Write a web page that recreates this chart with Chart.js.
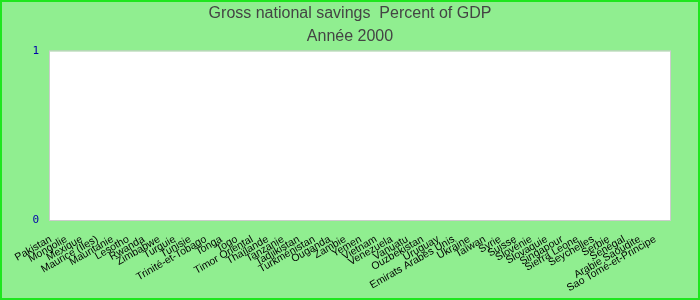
<!DOCTYPE html>
<html>
<head>
<meta charset="utf-8">
<script src="https://cdn.jsdelivr.net/npm/chart.js@4/dist/chart.umd.min.js"></script>
<style>
  html, body { margin: 0; padding: 0; background: #90EE90; }
  #wrap { width: 700px; height: 300px; position: relative; }
</style>
</head>
<body>
<div id="wrap"><canvas id="c" width="700" height="300"></canvas></div>
<script>
const titleLines = ["Gross national savings  Percent of GDP", "Année 2000"];
const categories = [
  "Pakistan", "Mongolie", "Mexique", "Maurice (Iles)", "Mauritanie", "Lesotho",
  "Rwanda", "Zimbabwe", "Turquie", "Tunisie", "Trinité-et-Tobago", "Tonga",
  "Togo", "Timor Oriental", "Thaïlande", "Tanzanie", "Tadjikistan", "Turkménistan",
  "Ouganda", "Zambie", "Yemen", "Vietnam", "Venezuela", "Vanuatu",
  "Ouzbékistan", "Uruguay", "Emirats Arabes Unis", "Ukraine", "Taïwan", "Syrie",
  "Suisse", "Slovénie", "Slovaquie", "Singapour", "Sierra Leone", "Seychelles",
  "Serbie", "Sénégal", "Arabie Saoudite", "Sao Tomé-et-Principe"
];
// No values are drawn in the reference for the year 2000
const savingsValues = [
  null, null, null, null, null, null, null, null, null, null,
  null, null, null, null, null, null, null, null, null, null,
  null, null, null, null, null, null, null, null, null, null,
  null, null, null, null, null, null, null, null, null, null
];
const yTickValues = [0, 1];

const bgPlugin = {
  id: 'bgPlugin',
  beforeDraw(chart) {
    const ctx = chart.ctx;
    const a = chart.chartArea;
    ctx.save();
    ctx.fillStyle = '#90EE90';
    ctx.fillRect(0, 0, chart.width, chart.height);
    ctx.strokeStyle = '#1ee61e';
    ctx.lineWidth = 2;
    ctx.strokeRect(1, 1, chart.width - 2, chart.height - 2);
    ctx.fillStyle = '#ffffff';
    ctx.fillRect(a.left, a.top, a.right - a.left, a.bottom - a.top);
    ctx.strokeStyle = '#cccccc';
    ctx.lineWidth = 1;
    ctx.strokeRect(a.left - 0.5, a.top - 0.5, a.right - a.left + 1, a.bottom - a.top + 1);
    ctx.restore();
  }
};

new Chart(document.getElementById('c'), {
  type: 'bar',
  data: {
    labels: categories,
    datasets: [{
      label: 'Gross national savings',
      data: savingsValues,
      backgroundColor: '#3366cc',
      borderWidth: 0,
      yAxisID: 'y'
    }]
  },
  options: {
    responsive: false,
    animation: false,
    layout: { padding: 0 },
    plugins: {
      legend: { display: false },
      tooltip: { enabled: false },
      title: {
        display: true,
        text: titleLines,
        color: '#444444',
        font: { family: "'Liberation Sans', Arial, sans-serif", size: 16, weight: 'normal', lineHeight: 1.45 },
        padding: { top: 2, bottom: 3 }
      }
    },
    scales: {
      x: {
        grid: { display: false, drawTicks: false },
        border: { display: false },
        ticks: {
          autoSkip: false,
          minRotation: 30,
          maxRotation: 30,
          padding: 13,
          labelOffset: -7,
          color: '#000000',
          font: { family: "'Liberation Sans', Arial, sans-serif", size: 10.5 }
        },
        afterFit(scale) { scale.height = 80; }
      },
      y: {
        min: 0,
        max: 1,
        grid: { display: false, drawTicks: false },
        border: { display: false },
        afterBuildTicks(scale) { scale.ticks = yTickValues.map(v => ({ value: v })); },
        ticks: {
          padding: 11,
          color: '#0000aa',
          font: { family: "'DejaVu Sans Mono', monospace", size: 11 }
        },
        afterFit(scale) { scale.width = 50; }
      },
      yRight: {
        position: 'right',
        display: true,
        grid: { display: false, drawTicks: false },
        border: { display: false },
        ticks: { display: false },
        afterFit(scale) { scale.width = 30; }
      }
    }
  },
  plugins: [bgPlugin]
});
</script>
</body>
</html>
